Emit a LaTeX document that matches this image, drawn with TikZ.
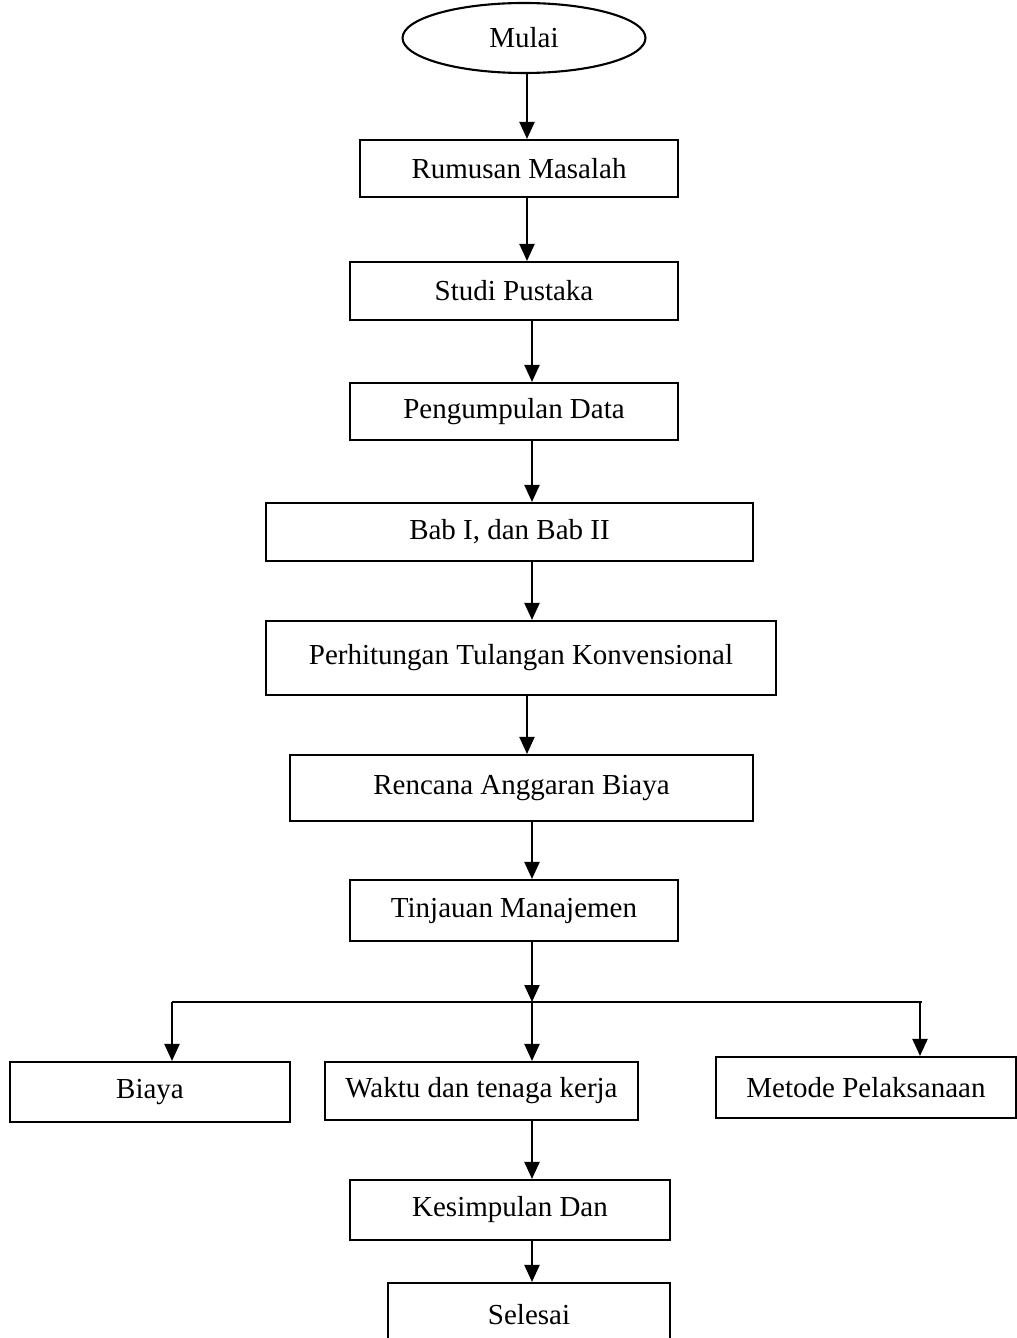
\documentclass[tikz,border=0pt]{standalone}
\usepackage{fontspec}
\setmainfont{Liberation Serif}
\usetikzlibrary{positioning, arrows.meta, shapes.geometric}

\begin{document}
\begin{tikzpicture}[
x=0.02cm, y=-0.02cm,
box/.style={rectangle, draw, line width=1.2pt, inner sep=0pt, align=center, font=\fontsize{16.5}{19}\selectfont},
startbox/.style={ellipse, draw, line width=1.2pt, inner sep=0pt, font=\fontsize{16.5}{19}\selectfont, minimum width=4.86cm, minimum height=1.4cm},
arrow/.style={-{Triangle[length=0.34cm, width=0.3cm]}, line width=1.2pt},
line/.style={line width=1.2pt}
]
\useasboundingbox (0,0) rectangle (1017,1338);

\node[startbox] (alur_mulai) at (524,38) {Mulai};
\node[box, minimum width=6.36cm, minimum height=1.14cm] (alur_rumusan) at (519,168.5) {Rumusan Masalah};
\node[box, minimum width=6.56cm, minimum height=1.16cm] (alur_studi) at (514,291) {Studi Pustaka};
\node[box, minimum width=6.56cm, minimum height=1.14cm] (alur_data) at (514,411.5) {Pengumpulan Data};
\node[box, minimum width=9.74cm, minimum height=1.16cm] (alur_bab) at (509.5,532) {Bab I, dan Bab II};
\node[box, minimum width=10.2cm, minimum height=1.48cm] (alur_hitung) at (521,658) {Perhitungan Tulangan Konvensional};
\node[box, minimum width=9.26cm, minimum height=1.32cm] (alur_rab) at (521.5,788) {Rencana Anggaran Biaya};
\node[box, minimum width=6.56cm, minimum height=1.22cm] (alur_tinjau) at (514,910.5) {Tinjauan Manajemen};
\node[box, minimum width=5.6cm, minimum height=1.2cm] (alur_biaya) at (150,1092) {Biaya};
\node[box, minimum width=6.26cm, minimum height=1.16cm] (alur_waktu) at (481.5,1091) {Waktu dan tenaga kerja};
\node[box, minimum width=6.0cm, minimum height=1.22cm] (alur_metode) at (866,1087.5) {Metode Pelaksanaan};
\node[box, minimum width=6.4cm, minimum height=1.2cm] (alur_simpul) at (510,1210) {Kesimpulan Dan};
\node[box, minimum width=5.64cm, minimum height=1.28cm] (alur_selesai) at (529,1315) {Selesai};

\coordinate (spine_a) at (527,0);
\coordinate (spine_b) at (532,0);
\coordinate (alur_cabang) at (532,1002);
\coordinate (cabang_kiri) at (172,1002);
\coordinate (cabang_kanan) at (922,1002);
\coordinate (spine_c) at (920,0);

\draw[arrow] (alur_mulai.south -| spine_a) -- (alur_rumusan.north -| spine_a);
\draw[arrow] (alur_rumusan.south -| spine_a) -- (alur_studi.north -| spine_a);
\draw[arrow] (alur_studi.south -| spine_b) -- (alur_data.north -| spine_b);
\draw[arrow] (alur_data.south -| spine_b) -- (alur_bab.north -| spine_b);
\draw[arrow] (alur_bab.south -| spine_b) -- (alur_hitung.north -| spine_b);
\draw[arrow] (alur_hitung.south -| spine_a) -- (alur_rab.north -| spine_a);
\draw[arrow] (alur_rab.south -| spine_b) -- (alur_tinjau.north -| spine_b);
\draw[arrow] (alur_tinjau.south -| spine_b) -- (alur_cabang);

\draw[line] (cabang_kiri) -- (cabang_kanan);
\draw[arrow] (cabang_kiri) -- (alur_biaya.north -| cabang_kiri);
\draw[arrow] (alur_cabang) -- (alur_waktu.north -| alur_cabang);
\draw[arrow] (alur_cabang -| spine_c) -- (alur_metode.north -| spine_c);

\draw[arrow] (alur_waktu.south -| spine_b) -- (alur_simpul.north -| spine_b);
\draw[arrow] (alur_simpul.south -| spine_b) -- (alur_selesai.north -| spine_b);

\end{tikzpicture}
\end{document}
